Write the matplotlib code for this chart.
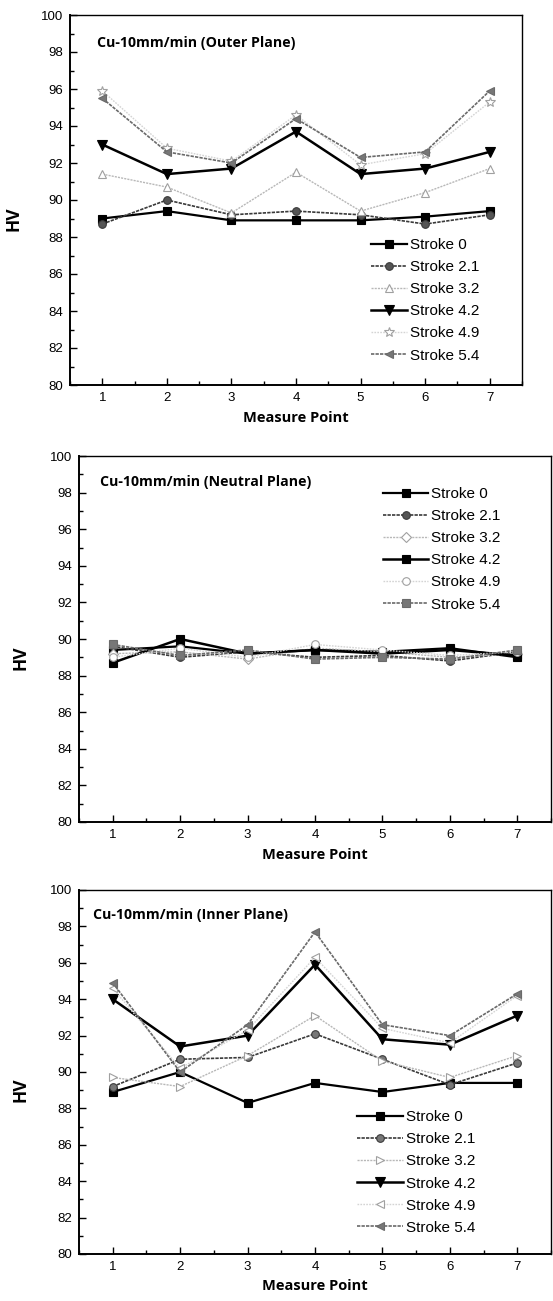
import numpy as np
import matplotlib
matplotlib.use("Agg")
import matplotlib.pyplot as plt
from matplotlib.ticker import MultipleLocator

plt.rcParams["font.family"] = ["Liberation Sans", "DejaVu Sans"]

# --- data ---
points = [1, 2, 3, 4, 5, 6, 7]
strokes = ["Stroke 0", "Stroke 2.1", "Stroke 3.2", "Stroke 4.2", "Stroke 4.9", "Stroke 5.4"]

outer_s0 = [89.0, 89.4, 88.9, 88.9, 88.9, 89.1, 89.4]
outer_s21 = [88.7, 90.0, 89.2, 89.4, 89.2, 88.7, 89.2]
outer_s32 = [91.4, 90.7, 89.3, 91.5, 89.4, 90.4, 91.7]
outer_s42 = [93.0, 91.4, 91.7, 93.7, 91.4, 91.7, 92.6]
outer_s49 = [95.9, 92.8, 92.1, 94.6, 91.9, 92.5, 95.3]
outer_s54 = [95.5, 92.6, 92.0, 94.4, 92.3, 92.6, 95.9]

neutral_s0 = [89.4, 89.6, 89.2, 89.4, 89.3, 89.5, 89.0]
neutral_s21 = [89.6, 89.0, 89.3, 89.0, 89.1, 88.8, 89.3]
neutral_s32 = [89.2, 89.3, 88.9, 89.5, 89.3, 89.0, 89.2]
neutral_s42 = [88.7, 90.0, 89.2, 89.4, 89.2, 89.4, 89.1]
neutral_s49 = [89.0, 89.5, 89.0, 89.7, 89.4, 89.1, 89.3]
neutral_s54 = [89.7, 89.1, 89.4, 88.9, 89.0, 88.9, 89.4]

inner_s0 = [88.9, 90.0, 88.3, 89.4, 88.9, 89.4, 89.4]
inner_s21 = [89.2, 90.7, 90.8, 92.1, 90.7, 89.3, 90.5]
inner_s32 = [89.7, 89.2, 90.9, 93.1, 90.6, 89.7, 90.9]
inner_s42 = [94.0, 91.4, 92.0, 95.9, 91.8, 91.5, 93.1]
inner_s49 = [94.6, 90.2, 92.3, 96.3, 92.4, 91.6, 94.2]
inner_s54 = [94.9, 90.0, 92.6, 97.7, 92.6, 92.0, 94.3]

titles = ["Cu-10mm/min (Outer Plane)", "Cu-10mm/min (Neutral Plane)", "Cu-10mm/min (Inner Plane)"]

# line look per stroke: colour, width, dash
colors = ["#000000", "#3a3a3a", "#b8b8b8", "#000000", "#d4d4d4", "#6a6a6a"]
widths = [1.6, 1.2, 1.0, 1.8, 1.0, 1.2]
dashes = ["-", (0, (2, 0.7)), (0, (1.5, 0.8)), "-", (0, (1.2, 0.9)), (0, (2, 0.7))]

markers = [
    ["s", "o", "^", "v", "*", "<"],
    ["s", "o", "D", "s", "o", "s"],
    ["s", "o", ">", "v", "<", "<"],
]
mfill = [
    ["#000000", "#555555", "white", "#000000", "white", "#777777"],
    ["#000000", "#555555", "white", "#000000", "white", "#777777"],
    ["#000000", "#777777", "white", "#000000", "white", "#777777"],
]

# axes boxes in pixels: left, top, right, bottom
boxes = [(70, 15, 522, 385), (79, 456, 551, 822), (79, 890, 551, 1254)]
title_pos = [(0.06, 0.925), (0.045, 0.93), (0.03, 0.93)]
legend_pos = [(0.665, 0.397), (0.645, 0.915), (0.59, 0.395)]
handle_len = [2.4, 2.9, 3.0]

W, H = 553, 1301
fig = plt.figure(figsize=(W / 100, H / 100), dpi=100)

datasets = [
    [outer_s0, outer_s21, outer_s32, outer_s42, outer_s49, outer_s54],
    [neutral_s0, neutral_s21, neutral_s32, neutral_s42, neutral_s49, neutral_s54],
    [inner_s0, inner_s21, inner_s32, inner_s42, inner_s49, inner_s54],
]

bold_font = ["Open Sans", "DejaVu Sans"]

for p in range(3):
    l, t, r, b = boxes[p]
    ax = fig.add_axes([l / W, 1 - b / H, (r - l) / W, (b - t) / H])
    for i, vals in enumerate(datasets[p]):
        ms = 7 if markers[p][i] in ("v", "*") else 5.5
        ax.plot(points, vals, linestyle=dashes[i], color=colors[i], lw=widths[i],
                marker=markers[p][i], ms=ms, mfc=mfill[p][i],
                mec=colors[i] if i not in (2, 4) else "#a0a0a0",
                mew=0.8, label=strokes[i])
    ax.set_xlim(0.5, 7.5)
    ax.set_ylim(80, 100)
    ax.xaxis.set_major_locator(MultipleLocator(1))
    ax.xaxis.set_minor_locator(MultipleLocator(0.5))
    ax.yaxis.set_major_locator(MultipleLocator(2))
    ax.yaxis.set_minor_locator(MultipleLocator(1))
    ax.tick_params(which="both", direction="in", top=False, right=False, labelsize=9.5, pad=5)
    ax.tick_params(which="major", length=5, width=1)
    ax.tick_params(which="minor", length=3, width=1)
    for s in ax.spines.values():
        s.set_linewidth(1.0)
    ax.spines["left"].set_linewidth(1.4)
    ax.spines["bottom"].set_linewidth(1.4)

    ax.set_ylabel("HV", fontsize=12.5, fontweight="bold", family=bold_font)
    ax.set_xlabel("Measure Point", fontsize=10.5, fontweight="bold", family=bold_font)
    ax.yaxis.set_label_coords(-0.105, 0.45)
    ax.xaxis.set_label_coords(0.5, -0.07)

    ax.text(title_pos[p][0], title_pos[p][1], titles[p], transform=ax.transAxes,
            fontsize=10.2, fontweight="bold", family=bold_font, va="center")

    ax.legend(loc="upper left", bbox_to_anchor=legend_pos[p], frameon=False, fontsize=11,
              handlelength=handle_len[p], handletextpad=0.2, labelspacing=0.53, borderaxespad=0,
              borderpad=0)

fig.savefig("out.png", dpi=100)
